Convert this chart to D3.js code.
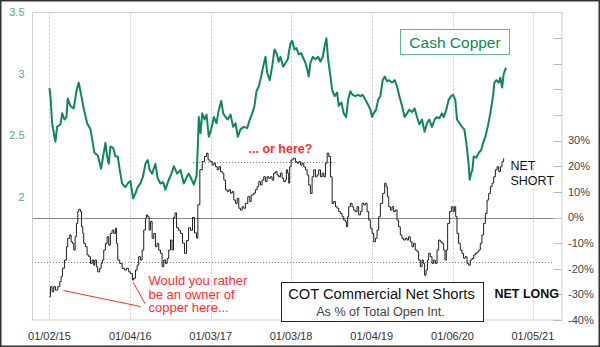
<!DOCTYPE html>
<html>
<head>
<meta charset="utf-8">
<script src="https://cdn.jsdelivr.net/npm/d3@7"></script>
<style>
  html, body { margin: 0; padding: 0; background: #fff; }
  svg { display: block; font-family: "Liberation Sans", Arial, sans-serif; }
</style>
</head>
<body>
<svg id="chart" width="600" height="347"></svg>
<script>
// Cash copper ($/lb), sampled as decimal years
const copperYears = [2015.003,2015.015,2015.036,2015.065,2015.077,2015.098,2015.139,2015.161,2015.189,2015.214,2015.230,2015.264,2015.305,2015.338,2015.367,2015.397,2015.429,2015.471,2015.513,2015.534,2015.562,2015.603,2015.645,2015.678,2015.699,2015.720,2015.740,2015.761,2015.795,2015.823,2015.852,2015.877,2015.906,2015.947,2015.976,2016.009,2016.043,2016.072,2016.100,2016.134,2016.167,2016.196,2016.224,2016.249,2016.279,2016.320,2016.349,2016.382,2016.416,2016.444,2016.485,2016.519,2016.548,2016.590,2016.631,2016.672,2016.714,2016.734,2016.764,2016.796,2016.830,2016.846,2016.858,2016.879,2016.901,2016.929,2016.954,2016.982,2017.012,2017.045,2017.078,2017.107,2017.137,2017.161,2017.190,2017.218,2017.252,2017.285,2017.314,2017.343,2017.376,2017.417,2017.459,2017.492,2017.522,2017.550,2017.575,2017.604,2017.634,2017.658,2017.687,2017.708,2017.740,2017.770,2017.799,2017.824,2017.852,2017.873,2017.907,2017.936,2017.964,2017.998,2018.019,2018.047,2018.072,2018.101,2018.131,2018.163,2018.184,2018.205,2018.225,2018.246,2018.275,2018.308,2018.342,2018.371,2018.399,2018.424,2018.445,2018.466,2018.495,2018.516,2018.548,2018.578,2018.598,2018.631,2018.660,2018.690,2018.715,2018.743,2018.772,2018.805,2018.839,2018.868,2018.896,2018.930,2018.963,2018.992,2019.013,2019.033,2019.063,2019.088,2019.116,2019.145,2019.170,2019.199,2019.228,2019.261,2019.294,2019.323,2019.352,2019.386,2019.418,2019.448,2019.476,2019.510,2019.542,2019.572,2019.601,2019.634,2019.666,2019.696,2019.725,2019.758,2019.791,2019.821,2019.849,2019.883,2019.903,2019.936,2019.965,2019.995,2020.020,2020.048,2020.069,2020.102,2020.131,2020.160,2020.185,2020.213,2020.226,2020.243,2020.260,2020.276,2020.309,2020.338,2020.368,2020.393,2020.421,2020.450,2020.483,2020.516,2020.533,2020.558,2020.586,2020.607,2020.629,2020.648,2020.669,2020.682];
const copperPrice = [2.886,2.82,2.60,2.49,2.45,2.57,2.59,2.68,2.63,2.65,2.80,2.74,2.72,2.86,2.93,2.83,2.72,2.60,2.55,2.47,2.36,2.34,2.23,2.36,2.44,2.33,2.27,2.41,2.40,2.33,2.33,2.22,2.11,2.08,2.11,2.13,1.99,2.03,2.08,2.11,2.17,2.27,2.30,2.22,2.19,2.27,2.15,2.11,2.12,2.06,2.14,2.19,2.25,2.19,2.22,2.11,2.17,2.19,2.15,2.10,2.17,2.41,2.65,2.52,2.68,2.63,2.67,2.49,2.55,2.65,2.60,2.71,2.78,2.68,2.65,2.63,2.67,2.57,2.60,2.49,2.55,2.57,2.56,2.63,2.68,2.74,2.86,2.90,2.98,3.06,3.14,3.01,2.95,3.06,3.20,3.17,3.10,3.14,3.06,3.09,3.12,3.25,3.27,3.20,3.21,3.16,3.17,3.12,3.09,3.04,2.98,3.09,3.14,3.12,3.14,3.10,3.14,3.23,3.29,3.12,2.98,2.87,2.82,2.85,2.74,2.77,2.68,2.65,2.79,2.86,2.83,2.82,2.83,2.82,2.83,2.79,2.75,2.71,2.65,2.68,2.71,2.79,2.82,2.95,2.98,2.94,2.95,2.93,2.95,2.90,2.82,2.74,2.65,2.68,2.71,2.69,2.72,2.65,2.59,2.63,2.53,2.60,2.63,2.57,2.63,2.65,2.64,2.68,2.65,2.71,2.79,2.82,2.83,2.79,2.63,2.60,2.57,2.55,2.44,2.27,2.14,2.19,2.22,2.33,2.32,2.36,2.38,2.44,2.49,2.57,2.68,2.82,2.93,2.95,2.93,2.97,2.89,3.00,3.04,3.05];

// COT commercial net shorts, % of total open interest
const cotYears = [2015.003,2015.015,2015.036,2015.056,2015.077,2015.106,2015.131,2015.148,2015.164,2015.189,2015.214,2015.230,2015.255,2015.272,2015.289,2015.305,2015.322,2015.338,2015.355,2015.367,2015.388,2015.401,2015.417,2015.429,2015.450,2015.471,2015.491,2015.513,2015.534,2015.553,2015.566,2015.587,2015.603,2015.628,2015.645,2015.662,2015.678,2015.699,2015.720,2015.740,2015.761,2015.782,2015.802,2015.823,2015.836,2015.852,2015.877,2015.906,2015.935,2015.960,2015.988,2016.009,2016.034,2016.050,2016.072,2016.093,2016.112,2016.134,2016.155,2016.175,2016.196,2016.208,2016.224,2016.242,2016.258,2016.279,2016.299,2016.320,2016.341,2016.361,2016.382,2016.403,2016.423,2016.444,2016.465,2016.485,2016.507,2016.526,2016.544,2016.563,2016.582,2016.606,2016.631,2016.656,2016.681,2016.706,2016.731,2016.755,2016.780,2016.805,2016.830,2016.846,2016.871,2016.901,2016.929,2016.954,2016.973,2016.995,2017.025,2017.045,2017.066,2017.087,2017.107,2017.128,2017.149,2017.169,2017.190,2017.211,2017.231,2017.252,2017.273,2017.293,2017.314,2017.335,2017.355,2017.376,2017.397,2017.417,2017.438,2017.467,2017.492,2017.509,2017.541,2017.562,2017.583,2017.603,2017.624,2017.645,2017.665,2017.686,2017.707,2017.727,2017.748,2017.769,2017.789,2017.810,2017.831,2017.851,2017.873,2017.894,2017.914,2017.935,2017.947,2017.963,2017.976,2017.988,2018.006,2018.031,2018.060,2018.081,2018.101,2018.122,2018.143,2018.163,2018.184,2018.205,2018.225,2018.246,2018.267,2018.287,2018.308,2018.329,2018.349,2018.371,2018.392,2018.412,2018.433,2018.454,2018.474,2018.495,2018.516,2018.536,2018.557,2018.578,2018.598,2018.619,2018.640,2018.660,2018.681,2018.693,2018.709,2018.722,2018.743,2018.764,2018.784,2018.805,2018.826,2018.846,2018.868,2018.888,2018.909,2018.930,2018.951,2018.971,2018.992,2019.013,2019.033,2019.054,2019.075,2019.095,2019.116,2019.145,2019.170,2019.187,2019.203,2019.220,2019.241,2019.261,2019.281,2019.302,2019.323,2019.343,2019.364,2019.385,2019.405,2019.426,2019.448,2019.467,2019.488,2019.509,2019.529,2019.550,2019.572,2019.592,2019.613,2019.634,2019.650,2019.666,2019.684,2019.701,2019.717,2019.737,2019.758,2019.778,2019.800,2019.821,2019.841,2019.862,2019.883,2019.903,2019.920,2019.936,2019.953,2019.978,2019.999,2020.020,2020.036,2020.053,2020.069,2020.089,2020.110,2020.131,2020.151,2020.172,2020.193,2020.213,2020.234,2020.255,2020.276,2020.297,2020.318,2020.338,2020.358,2020.379,2020.399,2020.421,2020.442,2020.462,2020.483,2020.504,2020.524,2020.545,2020.566,2020.586,2020.607,2020.628,2020.648];
const cotPct = [-30.9,-27,-29,-27,-28.3,-27,-25,-23,-19.8,-16.6,-11.4,-8.1,-6.8,-9.5,-10.1,-12.7,-7.5,-2.3,2.3,3.2,2.3,-3.6,-6.2,-10.1,-11.4,-14.6,-15.3,-17.9,-16.6,-18.6,-16.6,-19.2,-21.2,-19.8,-17.9,-16.6,-12.7,-10.1,-7.5,-10.8,-6.2,-4.9,-6.2,-4.2,-10.1,-16.6,-17.9,-19.8,-20.5,-19.8,-21.2,-21.9,-24.4,-23.7,-20.5,-18.6,-15.3,-16.6,-12.7,-4.9,-0.3,1.0,0.3,-4.9,-1.6,-8.1,-6.2,-11.4,-10.1,-12.7,-14,-19.2,-16.6,-17.9,-16,-12.7,-8.8,-12.7,0,1.8,-4,-5,-6.2,-10,-14,-9,-4,-5,0,-6,-8,5,18.6,21.8,23.8,25.1,22.5,21.8,20.5,21.2,19.8,18.6,19.8,17.9,17.3,14.6,10.8,10.1,10.8,9.5,10.1,6.8,5.5,7.5,3.6,2.9,4.2,3.6,5.5,8.1,6.2,8.8,9.5,10.8,12.0,14.0,12.7,14.6,15.9,14.0,15.9,15.3,15.9,14.6,17.3,17.9,16.6,15.9,17.3,15.3,14.0,14.6,18.6,17.3,13.4,19.8,22.5,23.1,21.8,21.2,21.8,20.5,21.2,19.8,18.6,16.6,12.7,9.4,15.9,18.6,15.9,16.6,18.6,15.9,17.3,15.9,21.2,25.1,23.8,15.9,5.5,6.2,4.2,3.6,2.3,1.6,0.3,-1.0,-1.6,-3.6,0.3,4.2,5.5,4.2,2.9,2.3,4.2,1.0,2.3,5.5,4.9,5.5,2.3,-1.0,-4.2,-6.2,-9.5,-8.1,-4.9,0.3,5.5,9.4,13.4,12.0,8.1,4.2,2.9,4.2,2.3,2.9,-1.0,-3.6,-6.8,-8.1,-8.8,-8.1,-8.8,-7.5,-9.5,-11.4,-10.1,-12.7,-13.4,-16.6,-19.2,-16.6,-17.9,-22.5,-20.5,-16.6,-14.0,-15.3,-17.9,-16.6,-17.9,-12.7,-8.8,-9.5,-10.1,-12.7,-16.6,-12.7,-2.3,2.3,4.2,2.3,4.2,0.3,-6.2,-10.1,-12.7,-14.0,-15.9,-15.3,-17.9,-18.6,-16.6,-16.0,-14.6,-14.0,-13.4,-12.7,-10.1,-6.8,-2.3,1.6,6.8,9.4,12.0,13.4,15.9,18.6,19.8,17.9,19.8,21.8,23.1];

// Axis ticks
const dateTicks = ["2015-01-02","2016-01-04","2017-01-03","2018-01-03","2019-01-04","2020-01-06","2021-01-05"];
const priceTicks = [2, 2.5, 3, 3.5];
const pctLabelTicks = [-40, -30, -20, -10, 0, 10, 20, 30];
const pctMarkTicks = [-40, -30, -20, -10, 0, 10, 20, 30, 40, 50, 60, 70];

// Reference levels on the COT scale
const refLow = -17.3;
const refHigh = 21.8;

const W = 600, H = 347;
const plot = { left: 32.5, right: 562, top: 12.5, bottom: 320 };

function fromDecimalYear(t) {
  const y = Math.floor(t);
  const a = Date.UTC(y, 0, 1), b = Date.UTC(y + 1, 0, 1);
  return new Date(a + (t - y) * (b - a));
}
const parseDay = d3.utcParse("%Y-%m-%d");

const x = d3.scaleUtc()
  .domain([parseDay("2014-10-17"), parseDay("2021-05-17")])
  .range([plot.left, plot.right]);
const yCu = d3.scaleLinear().domain([1, 3.5]).range([plot.bottom, plot.top]);
const yCot = d3.scaleLinear().domain([-40, 80]).range([plot.bottom, plot.top]);

const copper = copperYears.map((t, i) => ({ date: fromDecimalYear(t), v: copperPrice[i] }));
const cot = cotYears.map((t, i) => ({ date: fromDecimalYear(t), v: cotPct[i] }));

const svg = d3.select("#chart");
const green = "#0e8858";
const red = "#ff2b2b";

svg.append("rect").attr("x", 0).attr("y", 0).attr("width", W).attr("height", H).attr("fill", "#fff");

// plot frame
svg.append("rect")
  .attr("x", plot.left).attr("y", plot.top)
  .attr("width", plot.right - plot.left).attr("height", plot.bottom - plot.top)
  .attr("fill", "none").attr("stroke", "#cfcfcf").attr("stroke-width", 1);

// vertical date gridlines
const ticks = dateTicks.map(parseDay);
svg.append("g").selectAll("line").data(ticks).join("line")
  .attr("x1", d => Math.round(x(d)) + 0.5).attr("x2", d => Math.round(x(d)) + 0.5)
  .attr("y1", plot.top).attr("y2", plot.bottom)
  .attr("stroke", "#c8c8c8").attr("stroke-width", 1).attr("stroke-dasharray", "2,2");

// zero line
svg.append("line")
  .attr("x1", plot.left).attr("x2", plot.right)
  .attr("y1", Math.round(yCot(0)) + 0.5).attr("y2", Math.round(yCot(0)) + 0.5)
  .attr("stroke", "#8a8a8a").attr("stroke-width", 1);

// dotted reference levels
svg.append("line")
  .attr("x1", x(parseDay("2014-10-28"))).attr("x2", x(parseDay("2021-04-01")))
  .attr("y1", Math.round(yCot(refLow)) + 0.5).attr("y2", Math.round(yCot(refLow)) + 0.5)
  .attr("stroke", "#777").attr("stroke-width", 1).attr("stroke-dasharray", "1,2");
svg.append("line")
  .attr("x1", x(parseDay("2016-10-15"))).attr("x2", x(parseDay("2018-07-20")))
  .attr("y1", Math.round(yCot(refHigh)) + 0.5).attr("y2", Math.round(yCot(refHigh)) + 0.5)
  .attr("stroke", "#777").attr("stroke-width", 1).attr("stroke-dasharray", "1,2");

// right-hand inner tick marks
svg.append("g").selectAll("line").data(pctMarkTicks).join("line")
  .attr("x1", plot.right - 8.5).attr("x2", plot.right)
  .attr("y1", d => Math.round(yCot(d)) + 0.5).attr("y2", d => Math.round(yCot(d)) + 0.5)
  .attr("stroke", "#bdbdbd").attr("stroke-width", 1);

// series
svg.append("path").datum(copper)
  .attr("fill", "none").attr("stroke", green).attr("stroke-width", 2)
  .attr("stroke-linejoin", "round")
  .attr("d", d3.line().x(d => x(d.date)).y(d => yCu(d.v)));

svg.append("path").datum(cot)
  .attr("fill", "none").attr("stroke", "#1e1e1e").attr("stroke-width", 1)
  .attr("d", d3.line().curve(d3.curveStepAfter).x(d => x(d.date)).y(d => yCot(d.v)));

// left axis labels (copper)
svg.append("g").selectAll("text").data(priceTicks).join("text")
  .attr("x", 24.5).attr("y", d => yCu(d)).attr("dy", "0.35em")
  .attr("text-anchor", "end").attr("font-size", 11).attr("fill", "#5aa887")
  .text(d => d3.format("")(d));

// right axis labels (COT %)
svg.append("g").selectAll("text").data(pctLabelTicks).join("text")
  .attr("x", 568).attr("y", d => yCot(d)).attr("dy", "0.35em")
  .attr("text-anchor", "start").attr("font-size", 11).attr("fill", "#444")
  .text(d => d + "%");

// date labels
const fmt = d3.utcFormat("%m/%d/%y");
svg.append("g").selectAll("text").data(ticks).join("text")
  .attr("x", d => x(d)).attr("y", 340)
  .attr("text-anchor", "middle").attr("font-size", 11).attr("fill", "#333")
  .text(d => fmt(d));

// Cash Copper label
svg.append("rect").attr("x", 400.5).attr("y", 29.5).attr("width", 109).attr("height", 25)
  .attr("fill", "#fff").attr("stroke", "#63b591").attr("stroke-width", 1);
svg.append("text").attr("x", 455).attr("y", 47.5).attr("text-anchor", "middle")
  .attr("font-size", 15.5).attr("fill", green).text("Cash Copper");

// COT label
svg.append("rect").attr("x", 281.5).attr("y", 282.5).attr("width", 202).attr("height", 39)
  .attr("fill", "#fff").attr("stroke", "#222").attr("stroke-width", 1);
svg.append("text").attr("x", 381.5).attr("y", 298.5).attr("text-anchor", "middle")
  .attr("font-size", 14.7).attr("fill", "#111").text("COT Commercial Net Shorts");
svg.append("text").attr("x", 380.5).attr("y", 316).attr("text-anchor", "middle")
  .attr("font-size", 12.6).attr("fill", "#444").text("As % of Total Open Int.");

// NET SHORT / NET LONG
svg.append("text").attr("x", 510.5).attr("y", 170).attr("font-size", 12.5).attr("fill", "#111").text("NET");
svg.append("text").attr("x", 510.5).attr("y", 185).attr("font-size", 12.5).attr("fill", "#111").text("SHORT");
svg.append("text").attr("x", 494.5).attr("y", 298).attr("font-size", 12.5).attr("font-weight", "bold")
  .attr("fill", "#111").text("NET LONG");

// annotations
svg.append("text").attr("x", 248.5).attr("y", 152.5).attr("font-size", 12.5).attr("font-weight", "bold")
  .attr("fill", red).text("... or here?");

const note = svg.append("text").attr("x", 148.5).attr("y", 285).attr("font-size", 13).attr("fill", red);
["Would you rather", "be an owner of", "copper here..."].forEach((s, i) => {
  note.append("tspan").attr("x", 148.5).attr("dy", i === 0 ? 0 : 13.5).text(s);
});

svg.append("line").attr("x1", 63.5).attr("y1", 290.5).attr("x2", 140.5).attr("y2", 306.5)
  .attr("stroke", red).attr("stroke-width", 1);
svg.append("line").attr("x1", 133).attr("y1", 282).attr("x2", 145).attr("y2", 303.5)
  .attr("stroke", red).attr("stroke-width", 1);

// outer frame
svg.append("rect").attr("x", 0.75).attr("y", 0.75).attr("width", W - 1.5).attr("height", H - 1.5)
  .attr("fill", "none").attr("stroke", "#333").attr("stroke-width", 1.5);
</script>
</body>
</html>
